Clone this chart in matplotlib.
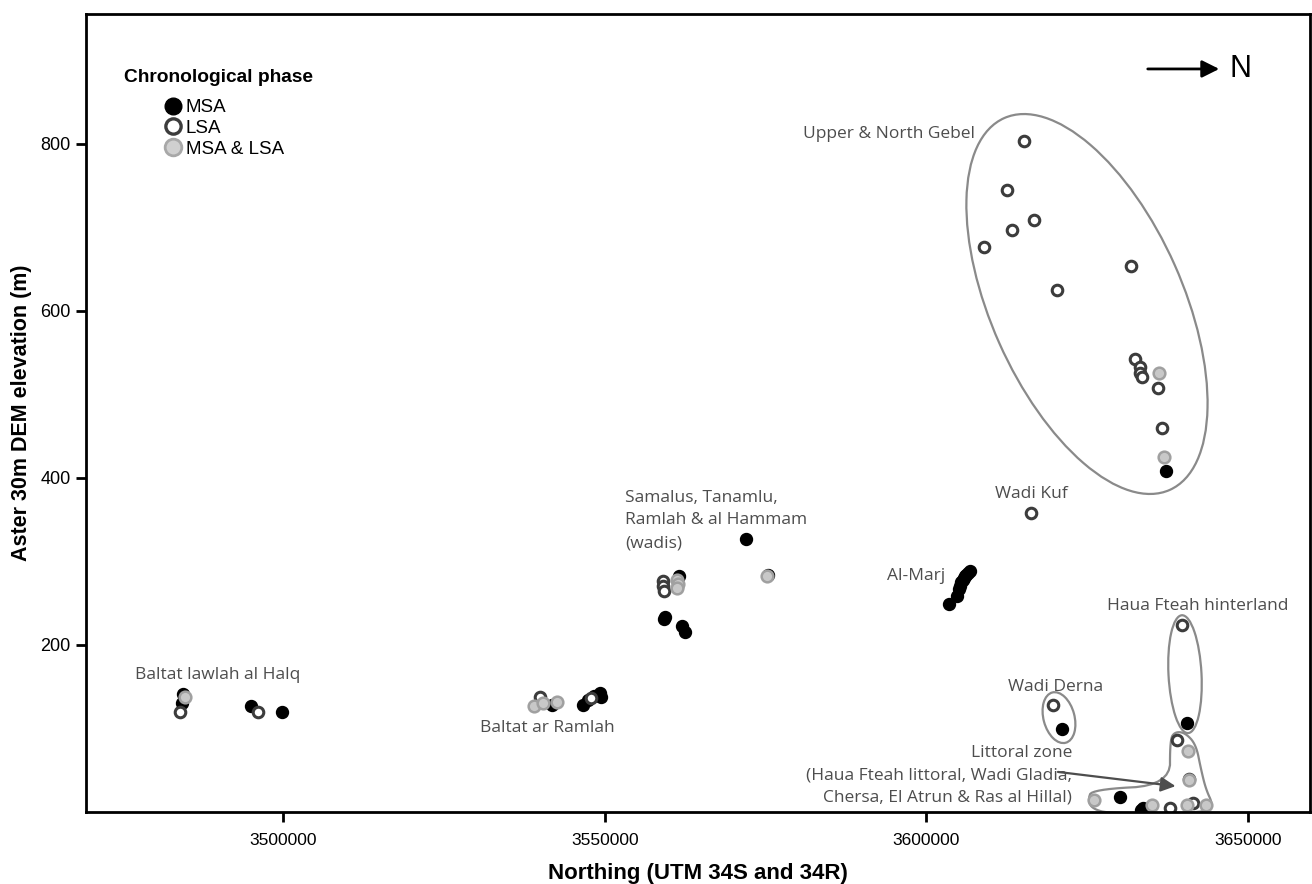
import numpy as np
import matplotlib
matplotlib.use("Agg")
import matplotlib.pyplot as plt
from matplotlib.patches import Ellipse, Polygon, FancyArrowPatch
from matplotlib.transforms import ScaledTranslation
from matplotlib.lines import Line2D

# northing (m) and Aster 30m DEM elevation (m) of the sites, by phase
msa_north = [3484300, 3484460, 3495030, 3499840,
             3541800, 3546620, 3547400, 3548330, 3549260, 3549420,
             3561540, 3559210, 3559360, 3562000, 3562470, 3571950, 3575370,
             3603500, 3604740, 3605050, 3605360, 3605670, 3605980, 3606140,
             3606450, 3606760, 3605200, 3605900,
             3637220, 3621060, 3640480,
             3630070, 3633330, 3633640]
msa_elev = [131, 141, 127, 120,
            128, 128, 134, 139, 143, 138,
            282, 231, 233, 223, 216, 327, 284,
            249, 259, 267, 275, 278, 282, 284,
            286, 288, 270, 280,
            408, 99, 107,
            18, 3, 5]

lsa_north = [3484000, 3496120,
             3539940, 3547860,
             3559050, 3559050, 3559210,
             3616240,
             3615150, 3612510, 3616710, 3613290, 3608940, 3631780, 3620280,
             3632400, 3633180, 3633180, 3633490, 3635980, 3636600,
             3619660, 3639700,
             3638930, 3640790, 3637840, 3641410]
lsa_elev = [120, 120,
            138, 136,
            276, 270, 264,
            358,
            803, 745, 709, 697, 676, 653, 625,
            542, 533, 525, 521, 508, 460,
            128, 224,
            86, 39, 5, 11]

both_north = [3484770,
              3539000, 3540400, 3542580,
              3561230, 3561380, 3561230, 3575210,
              3636130, 3636910,
              3640640, 3640790, 3626030, 3635040, 3640480, 3643430]
both_elev = [138,
             127, 131, 132,
             278, 273, 268, 283,
             525, 425,
             73, 38, 14, 8, 9, 8]

x_ticks = [3500000, 3550000, 3600000, 3650000]
y_ticks = [200, 400, 600, 800]

# area labels: text, northing, elevation, horizontal alignment
area_labels = [
    ("Upper & North Gebel", 3580810, 811, "left"),
    ("Wadi Kuf", 3610650, 381, "left"),
    ("Samalus, Tanamlu,\nRamlah & al Hammam\n(wadis)", 3553150, 349, "left"),
    ("Al-Marj", 3602870, 282, "right"),
    ("Haua Fteah hinterland", 3628050, 246, "left"),
    ("Wadi Derna", 3612660, 150, "left"),
    ("Littoral zone\n(Haua Fteah littoral, Wadi Gladia,\nChersa, El Atrun & Ras al Hillal)",
     3622610, 44, "right"),
    ("Baltat lawlah al Halq", 3477000, 164, "left"),
    ("Baltat ar Ramlah", 3530610, 101, "left"),
]

# rings drawn round groups: centre (northing, elevation), size in inches, angle
rings = [
    (3624940, 608, 4.07, 1.92, -66),
    (3620590, 113, 0.52, 0.31, -75),
    (3640170, 165, 1.18, 0.33, -87),
]

# outline of the littoral zone group
littoral_outline = [
    (3625100, 15), (3625720, 27), (3637840, 32), (3637840, 87),
    (3638620, 96), (3640170, 95), (3641880, 81), (3642660, 51),
    (3643430, 27), (3644520, 9), (3643740, -1), (3628520, -2),
    (3625720, 4),
]


def chaikin(pts, n=3):
    pts = np.asarray(pts, float)
    for _ in range(n):
        q = np.roll(pts, -1, axis=0)
        new = np.empty((2 * len(pts), 2))
        new[0::2] = 0.75 * pts + 0.25 * q
        new[1::2] = 0.25 * pts + 0.75 * q
        pts = new
    return pts


plt.rcParams['font.family'] = ['Liberation Sans', 'DejaVu Sans']

fig = plt.figure(figsize=(13.12, 8.84), dpi=100)
ax = fig.add_axes([0.0655, 0.0814, 0.933, 0.9027])

ax.plot(msa_north, msa_elev, 'o', ms=8.6, mfc='black', mec='black', mew=1, zorder=3)
ax.plot(lsa_north, lsa_elev, 'o', ms=7.6, mfc='white', mec='#3c3c3c', mew=2.2, zorder=4)
ax.plot(both_north, both_elev, 'o', ms=8.4, mfc='#c8c8c8', mec='#a0a0a0', mew=1.8, zorder=5)

for cx, cy, w, h, ang in rings:
    tr = fig.dpi_scale_trans + ScaledTranslation(cx, cy, ax.transData)
    ax.add_patch(Ellipse((0, 0), w, h, angle=ang, transform=tr, fill=False,
                         ec='#8a8a8a', lw=1.6, zorder=2))

ax.add_patch(Polygon(chaikin(littoral_outline), closed=True, fill=False,
                     ec='#8a8a8a', lw=1.6, zorder=2))

for txt, x, y, ha in area_labels:
    ax.text(x, y, txt, ha=ha, va='center', multialignment=ha, fontsize=12.5,
            color='#4d4d4d', family=['Open Sans', 'DejaVu Sans'], linespacing=1.55)

ax.annotate('', xy=(3638700, 31), xytext=(3620430, 48),
            arrowprops=dict(arrowstyle='-|>', mutation_scale=22, lw=1.6,
                            color='#4d4d4d', shrinkA=0, shrinkB=0))

# north arrow
fig.patches.append(FancyArrowPatch(
    (0.8727, 0.922), (0.9314, 0.922), transform=fig.transFigure,
    arrowstyle='-|>', mutation_scale=26, lw=2, color='black'))
fig.text(0.9375, 0.922, 'N', fontsize=22, va='center', ha='left')

# legend
fig.text(124 / 1312, 1 - 77 / 884, 'Chronological phase', fontsize=13.8,
         fontweight='bold', va='center', ha='left')
handles = [
    Line2D([], [], ls='', marker='o', ms=12, mfc='black', mec='black'),
    Line2D([], [], ls='', marker='o', ms=11, mfc='white', mec='#3c3c3c', mew=2.4),
    Line2D([], [], ls='', marker='o', ms=12, mfc='#d0d0d0', mec='#a8a8a8', mew=2),
]
fig.legend(handles, ['MSA', 'LSA', 'MSA & LSA'], loc='upper left',
           bbox_to_anchor=(165 / 1312, 1 - 99 / 884), frameon=False,
           fontsize=13.5, handlelength=0.8, handletextpad=0.3,
           labelspacing=0.2, borderpad=0, borderaxespad=0)

ax.set_xlim(3469390, 3659600)
ax.set_ylim(0, 955)
ax.set_xticks(x_ticks)
ax.set_yticks(y_ticks)
ax.ticklabel_format(style='plain', useOffset=False)
ax.tick_params(direction='out', length=7, width=2, labelsize=12.5)
ax.tick_params(axis='x', pad=8)
ax.tick_params(axis='y', pad=4, labelsize=13)
for s in ax.spines.values():
    s.set_linewidth(2)
    s.set_zorder(6)

ax.set_xlabel('Northing (UTM 34S and 34R)', fontsize=16, fontweight='bold', labelpad=11)
ax.set_ylabel('Aster 30m DEM elevation (m)', fontsize=15.5, fontweight='bold', labelpad=6)

fig.savefig('out.png', dpi=100)
